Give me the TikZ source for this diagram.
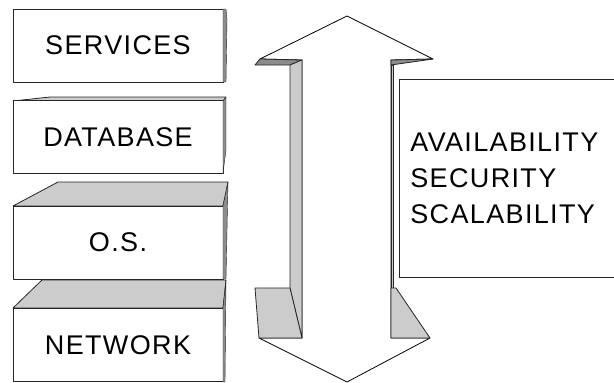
\documentclass[tikz,border=0pt]{standalone}
\usepackage{fontspec}
\setmainfont{Liberation Sans}[LetterSpace=5]
\begin{document}
\begin{tikzpicture}[x=1pt,y=-1pt,line width=0.8pt,line join=round,
  layer/.style={draw=black!85,fill=white,minimum width=210pt,minimum height=73pt,
    inner sep=0pt,font=\fontsize{27}{36}\selectfont},
  lit/.style={draw=black!85,fill=black!20},
  dark/.style={draw=black!85,fill=black!45}]
\useasboundingbox (0,0) rectangle (614,383);

% Top faces of the layers
\draw[lit] (13,101) -- (50,97) -- (226,97) -- (223,101) -- cycle;
\draw[lit] (13,206) -- (58,182) -- (228,182) -- (223,206) -- cycle;
\draw[lit] (13,308) -- (42,280) -- (226,280) -- (223,308) -- cycle;

% The layers
\node[layer] (services) at (118,45.5) {SERVICES};
\node[layer] (database) at (118,137) {DATABASE};
\node[layer] (os) at (118,242.5) {O.S.};
\node[layer] (network) at (118,345) {NETWORK};

% Side faces of the layers
\draw[dark,line width=0.4pt] (223,9) -- (226,9) -- (227,20) -- (226,82) -- (223,82) -- cycle;
\draw[dark,line width=0.4pt] (223,101) -- (226,97) -- (226,150) -- (223,173) -- cycle;
\draw[dark,line width=0.4pt] (223,206) -- (228,182) -- (226,279) -- (223,279) -- cycle;
\draw[dark,line width=0.4pt] (223,308) -- (226,280) -- (225,382) -- (223,382) -- cycle;

% Double arrow, front face
\draw[fill=white] (260,59) -- (347,16) -- (433,59) -- (391,60) -- (391,338)
  -- (430,338) -- (347,382) -- (259,338) -- (302,338) -- (302,60) -- cycle;

% Double arrow, visible depth
\draw[dark] (255,65) -- (260,59) -- (302,60) -- (290,65) -- cycle;
\draw[lit] (290,65) -- (302,60) -- (302,338) -- (290,288) -- cycle;
\draw[lit] (255,288) -- (290,288) -- (302,338) -- (259,338) -- cycle;
\draw[dark] (391,60) -- (433,59) -- (391,65) -- cycle;
\draw[lit,line width=0.4pt] (391,65) -- (393,65) -- (393,288) -- (391,288) -- cycle;
\draw[lit] (391,288) -- (396,288) -- (430,338) -- (391,338) -- cycle;

% Qualities box
\node[draw=black!85,fill=white,anchor=west,minimum height=198pt,text width=260pt,
  inner xsep=11pt,align=left,font=\fontsize{27}{36}\selectfont]
  (qualities) at (399,178) {AVAILABILITY\\SECURITY\\SCALABILITY};

\end{tikzpicture}
\end{document}
